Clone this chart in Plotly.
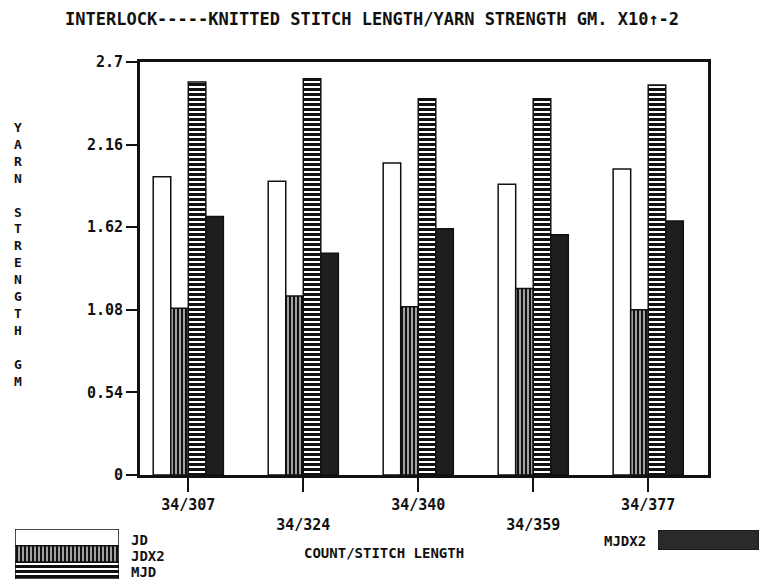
import plotly.graph_objects as go

categories = ["34/307", "34/324", "34/340", "34/359", "34/377"]
tick_text = ["34/307", "<br>34/324", "34/340", "<br>34/359", "34/377"]
jd = [1.95, 1.92, 2.04, 1.90, 2.00]
jdx2 = [1.09, 1.17, 1.10, 1.22, 1.08]
mjd = [2.57, 2.59, 2.46, 2.46, 2.55]
mjdx2 = [1.69, 1.45, 1.61, 1.57, 1.66]
y_ticks = [0, 0.54, 1.08, 1.62, 2.16, 2.7]
y_tick_text = ["0", "0.54", "1.08", "1.62", "2.16", "2.7"]
series_names = ["JD", "JDX2", "MJD", "MJDX2"]

W, H = 759, 586
FONT = "DejaVu Sans Mono"
x_idx = list(range(len(categories)))

def px(x):
    return x / W

def py(y):
    return 1 - y / H

styles = {
    "JD": dict(color="white", pattern=dict(shape="")),
    "JDX2": dict(color="white", pattern=dict(shape="|", fgcolor="#111", bgcolor="#fff", size=4, solidity=0.7, fillmode="replace")),
    "MJD": dict(color="white", pattern=dict(shape="-", fgcolor="#111", bgcolor="#fff", size=5, solidity=0.6, fillmode="replace")),
    "MJDX2": dict(color="#1e1e1e", pattern=dict(shape="")),
}

fig = go.Figure()
for name, vals in zip(series_names, [jd, jdx2, mjd, mjdx2]):
    st = styles[name]
    fig.add_trace(go.Bar(
        x=x_idx, y=vals, name=name,
        marker=dict(color=st["color"], pattern=st["pattern"], line=dict(color="#111", width=1.5)),
        xaxis="x", yaxis="y", showlegend=False,
    ))

# legend swatches (bottom-left stack), one trace per series
for pos, name in zip([2, 1, 0], ["JD", "JDX2", "MJD"]):
    st = styles[name]
    fig.add_trace(go.Bar(
        x=[1], y=[pos], orientation="h", width=1, offset=-0.5, base=0,
        marker=dict(color=st["color"], pattern=st["pattern"], line=dict(color="#111", width=1.5)),
        xaxis="x2", yaxis="y2", showlegend=False, hoverinfo="skip",
    ))
fig.add_trace(go.Bar(
    x=[1], y=[0], orientation="h", width=1, offset=-0.5, base=0,
    marker=dict(color="#2a2a2a", line=dict(color="#111", width=1)),
    xaxis="x3", yaxis="y3", showlegend=False, hoverinfo="skip",
))

axfont = dict(family=FONT, size=15, color="#111", weight="bold")

fig.update_layout(
    width=W, height=H, autosize=False,
    margin=dict(l=0, r=0, t=0, b=0, pad=0),
    paper_bgcolor="white", plot_bgcolor="white",
    barmode="group", bargap=0.39, bargroupgap=0,
    xaxis=dict(
        domain=[px(140), px(708)], range=[-0.42, 4.52],
        tickvals=x_idx, ticktext=tick_text, tickfont=axfont,
        ticks="outside", ticklen=14, tickwidth=2, tickcolor="#111",
        showline=True, linewidth=3, linecolor="#111", mirror=True,
        showgrid=False, zeroline=False, anchor="y", automargin=False,
    ),
    yaxis=dict(
        domain=[py(475), py(62)], range=[0, 2.7],
        tickvals=y_ticks, ticktext=y_tick_text, tickfont=axfont,
        ticks="outside", ticklen=11, tickwidth=2, tickcolor="#111",
        showline=True, linewidth=3, linecolor="#111", mirror=True,
        showgrid=False, zeroline=False, anchor="x", automargin=False,
    ),
    xaxis2=dict(domain=[px(15), px(119)], range=[0, 1], visible=False, anchor="y2", automargin=False),
    yaxis2=dict(domain=[py(579), py(529)], range=[-0.5, 2.5], visible=False, anchor="x2", automargin=False),
    xaxis3=dict(domain=[px(658), px(759)], range=[0, 1], visible=False, anchor="y3", automargin=False),
    yaxis3=dict(domain=[py(550), py(530)], range=[-0.5, 0.5], visible=False, anchor="x3", automargin=False),
)

ann_font = dict(family=FONT, size=17, color="#111", weight="bold")
small_font = dict(family=FONT, size=14, color="#111", weight="bold")
annotations = [
    dict(text="INTERLOCK-----KNITTED STITCH LENGTH/YARN STRENGTH GM. X10\u2191-2",
         x=px(372), y=py(19), font=ann_font),
    dict(text="<br>".join(list("YARN")) + "<br><br>" + "<br>".join(list("STRENGTH")) + "<br><br>" + "<br>".join(list("GM")),
         x=px(18), y=py(255), font=dict(family=FONT, size=13, color="#111", weight="bold")),
    dict(text="COUNT/STITCH LENGTH", x=px(384), y=py(553), font=small_font),
    dict(text="JD", x=px(129), y=py(540), xanchor="left", font=small_font),
    dict(text="JDX2", x=px(129), y=py(556), xanchor="left", font=small_font),
    dict(text="MJD", x=px(129), y=py(572), xanchor="left", font=small_font),
    dict(text="MJDX2", x=px(648), y=py(541), xanchor="right", font=small_font),
]
for a in annotations:
    a.setdefault("xanchor", "center")
    a.setdefault("yanchor", "middle")
    fig.add_annotation(xref="paper", yref="paper", showarrow=False, **a)

fig.write_html("out.html")
